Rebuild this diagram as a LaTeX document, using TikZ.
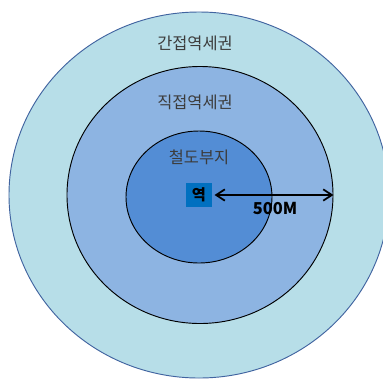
\documentclass[tikz,border=0pt]{standalone}
\usepackage{fontspec}
\setmainfont{Noto Sans CJK KR}
\usepackage{tikz}
\usetikzlibrary{arrows.meta,positioning,shapes.geometric}
\definecolor{ringouter}{RGB}{183,222,232}
\definecolor{ringmid}{RGB}{141,180,226}
\definecolor{ringinner}{RGB}{83,141,213}
\definecolor{stationblue}{RGB}{0,112,192}
\definecolor{edgeblue}{RGB}{65,100,160}
\definecolor{textgray}{RGB}{60,60,60}
\tikzset{
  zone/.style={ellipse, draw=black, line width=0.8pt, inner sep=0pt},
  zonename/.style={font=\fontsize{14}{16}\selectfont, text=textgray},
  station/.style={rectangle, fill=stationblue, minimum width=0.8cm, minimum height=0.7cm,
                  inner sep=0pt, font=\fontsize{13}{15}\selectfont\bfseries},
  radius arrow/.style={{Straight Barb[length=2.6mm,width=3.4mm]}-{Straight Barb[length=2.6mm,width=3.4mm]}, line width=1.5pt},
}

\begin{document}
\begin{tikzpicture}[x=0.03cm, y=-0.03cm]
\useasboundingbox (0,0) rectangle (383,378);
\clip (0,0) rectangle (383,378);
\fill[white] (0,0) rectangle (383,378);

\node[zone, draw=edgeblue, fill=ringouter, minimum width=11.4cm, minimum height=10.98cm] (outer) at (199,195) {};
\node[zone, fill=ringmid, minimum width=7.98cm, minimum height=7.71cm] (mid) at (200,195) {};
\node[zone, fill=ringinner, minimum width=4.38cm, minimum height=3.96cm] (inner) at (199,197) {};

\node[zonename] (outername) at (195,43) {간접역세권};
\node[zonename] (midname) at (195,102) {직접역세권};
\node[zonename] (innername) at (199,157) {철도부지};

\node[station] (stn) at (199,195) {역};
\draw[radius arrow] (stn.east) ++(2,0) coordinate (arrowstart) (arrowstart) -- (mid.east);
\node[font=\fontsize{14}{16}\selectfont\bfseries] (dist) at (275,208) {500M};
\end{tikzpicture}
\end{document}
